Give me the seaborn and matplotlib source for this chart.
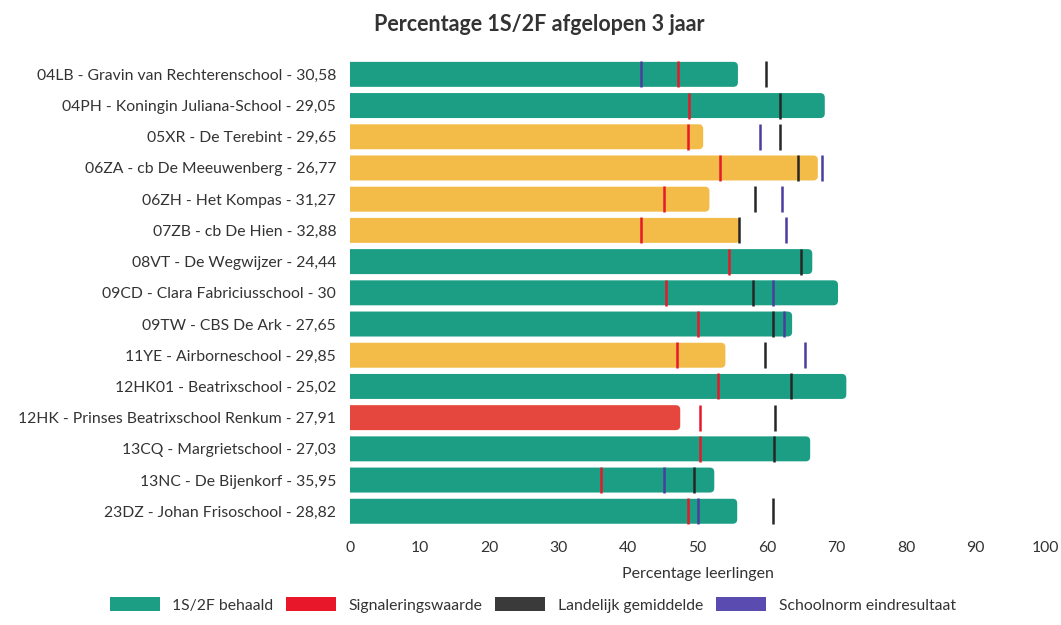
import numpy as np
import pandas as pd
import matplotlib
matplotlib.use("Agg")
import matplotlib.pyplot as plt
from matplotlib.patches import FancyBboxPatch, Patch
import seaborn as sns

schools = [
    "04LB - Gravin van Rechterenschool - 30,58",
    "04PH - Koningin Juliana-School - 29,05",
    "05XR - De Terebint - 29,65",
    "06ZA - cb De Meeuwenberg - 26,77",
    "06ZH - Het Kompas - 31,27",
    "07ZB - cb De Hien - 32,88",
    "08VT - De Wegwijzer - 24,44",
    "09CD - Clara Fabriciusschool - 30",
    "09TW - CBS De Ark - 27,65",
    "11YE - Airborneschool - 29,85",
    "12HK01 - Beatrixschool - 25,02",
    "12HK - Prinses Beatrixschool Renkum - 27,91",
    "13CQ - Margrietschool - 27,03",
    "13NC - De Bijenkorf - 35,95",
    "23DZ - Johan Frisoschool - 28,82",
]
behaald = [55.8, 68.3, 50.8, 67.3, 51.7, 56.1, 66.5, 70.2, 63.6, 54.0, 71.4, 47.5, 66.2, 52.4, 55.7]
status = ["ok", "ok", "warn", "warn", "warn", "warn", "ok", "ok", "ok", "warn", "ok", "bad", "ok", "ok", "ok"]
signalering = [47.2, 48.8, 48.6, 53.2, 45.2, 41.9, 54.5, 45.4, 50.1, 47.0, 53.0, 50.4, 50.3, 36.1, 48.6]
landelijk = [59.9, 61.9, 61.9, 64.5, 58.3, 56.0, 64.9, 57.9, 60.9, 59.7, 63.5, 61.2, 61.0, 49.5, 60.9]
schoolnorm = [41.9, np.nan, 59.0, 67.9, 62.2, 62.7, np.nan, 60.9, 62.5, 65.4, np.nan, np.nan, np.nan, 45.2, 50.0]
xticks = [0, 10, 20, 30, 40, 50, 60, 70, 80, 90, 100]

status_colors = {"ok": "#1b9e83", "warn": "#f3bc48", "bad": "#e5473e"}
c_sig = "#e8182a"
c_land = "#262626"
c_norm = "#4b3d9e"

df = pd.DataFrame({"school": schools, "behaald": behaald, "status": status})

plt.rcParams["font.family"] = ["Lato", "DejaVu Sans"]
fig = plt.figure(figsize=(10.61, 6.25), dpi=100)
ax = fig.add_axes([0.33, 0.157, 0.655, 0.749])

sns.barplot(data=df, x="behaald", y="school", hue="school",
            palette=[status_colors[s] for s in status], legend=False,
            orient="h", width=0.8, ax=ax, saturation=1)

ax.set_xlim(0, 100)
ax.set_ylim(len(schools) - 0.5, -0.5)

# rounded bar ends
bars = list(ax.patches)
for p in bars:
    x, y = p.get_x(), p.get_y()
    w, h = p.get_width(), p.get_height()
    fc = p.get_facecolor()
    p.remove()
    fb = FancyBboxPatch((x - 2, y), w + 2, h,
                        boxstyle="round,pad=0,rounding_size=0.65",
                        mutation_aspect=0.224, facecolor=fc,
                        edgecolor="none", clip_on=True)
    ax.add_patch(fb)

ypos = np.arange(len(schools))
ms = 19
ax.plot(schoolnorm, ypos, linestyle="none", marker="|", markersize=ms,
        markeredgewidth=1.8, color=c_norm)
ax.plot(signalering, ypos, linestyle="none", marker="|", markersize=ms,
        markeredgewidth=1.8, color=c_sig)
ax.plot(landelijk, ypos, linestyle="none", marker="|", markersize=ms,
        markeredgewidth=1.8, color=c_land)

for s in ax.spines.values():
    s.set_visible(False)
ax.set_xticks(xticks)
ax.set_xticklabels([str(t) for t in xticks])
ax.tick_params(axis="both", length=0, labelsize=11.3, colors="#333333")
ax.tick_params(axis="x", pad=10)
ax.tick_params(axis="y", pad=10)
ax.set_ylabel("")
ax.set_xlabel("Percentage leerlingen", fontsize=11.5, color="#333333", labelpad=9)
ax.grid(False)

fig.suptitle("Percentage 1S/2F afgelopen 3 jaar", x=0.508, y=0.978,
             fontsize=15.5, fontweight="bold", color="#333333")

handles = [Patch(facecolor=status_colors["ok"], label="1S/2F behaald"),
           Patch(facecolor=c_sig, label="Signaleringswaarde"),
           Patch(facecolor="#3a3a3a", label="Landelijk gemiddelde"),
           Patch(facecolor="#5a4bb0", label="Schoolnorm eindresultaat")]
leg = fig.legend(handles=handles, loc="center", bbox_to_anchor=(0.502, 0.032),
                 ncol=4, frameon=False, fontsize=11.3, handlelength=3.2,
                 handleheight=1.0, columnspacing=0.8, handletextpad=0.8)
for t in leg.get_texts():
    t.set_color("#333333")

fig.savefig("out.png", dpi=100)
